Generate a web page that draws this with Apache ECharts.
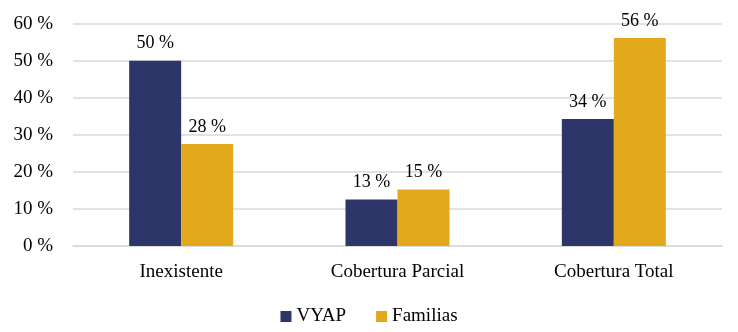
<!DOCTYPE html>
<html>
<head>
<meta charset="utf-8">
<script src="https://cdn.jsdelivr.net/npm/echarts@6/dist/echarts.min.js"></script>
<style>
  html, body { margin: 0; padding: 0; background: #fff; }
  #chart { width: 738px; height: 332px; }
</style>
</head>
<body>
<div id="chart"></div>
<script>
const categories = ["Inexistente", "Cobertura Parcial", "Cobertura Total"];
const vyap = [50.1, 12.6, 34.3];
const familias = [27.6, 15.3, 56.2];
const yTicks = [0, 10, 20, 30, 40, 50, 60];

const font = "'Liberation Serif', 'Times New Roman', serif";
const chart = echarts.init(document.getElementById("chart"));

const labelFmt = p => Math.round(p.value) + " %";

chart.setOption({
  animation: false,
  textStyle: { fontFamily: font },
  grid: { left: 73, right: 16, top: 24, bottom: 86 },
  legend: {
    bottom: 1,
    left: "center",
    itemWidth: 11,
    itemHeight: 11,
    itemGap: 30,
    icon: "rect",
    textStyle: { fontFamily: font, fontSize: 19, color: "#000" },
    data: ["VYAP", "Familias"]
  },
  xAxis: {
    type: "category",
    data: categories,
    axisLine: { lineStyle: { color: "#d9d9d9", width: 1.5 } },
    axisTick: { show: false },
    axisLabel: { fontFamily: font, fontSize: 19, color: "#000", margin: 17 }
  },
  yAxis: {
    type: "value",
    min: yTicks[0],
    max: yTicks[yTicks.length - 1],
    interval: 10,
    axisLine: { show: false },
    axisTick: { show: false },
    splitLine: { lineStyle: { color: "#d9d9d9", width: 1.5 } },
    axisLabel: { fontFamily: font, fontSize: 19, color: "#000", margin: 20, formatter: v => v + " %" }
  },
  series: [
    {
      name: "VYAP",
      type: "bar",
      data: vyap,
      barWidth: 52,
      barGap: "0%",
      itemStyle: { color: "#2E3669" },
      label: { show: true, position: "top", distance: 8, fontFamily: font, fontSize: 18, color: "#000", formatter: labelFmt }
    },
    {
      name: "Familias",
      type: "bar",
      data: familias,
      barWidth: 52,
      barGap: "0%",
      itemStyle: { color: "#E3A91D" },
      label: { show: true, position: "top", distance: 8, fontFamily: font, fontSize: 18, color: "#000", formatter: labelFmt }
    }
  ]
});
</script>
</body>
</html>
